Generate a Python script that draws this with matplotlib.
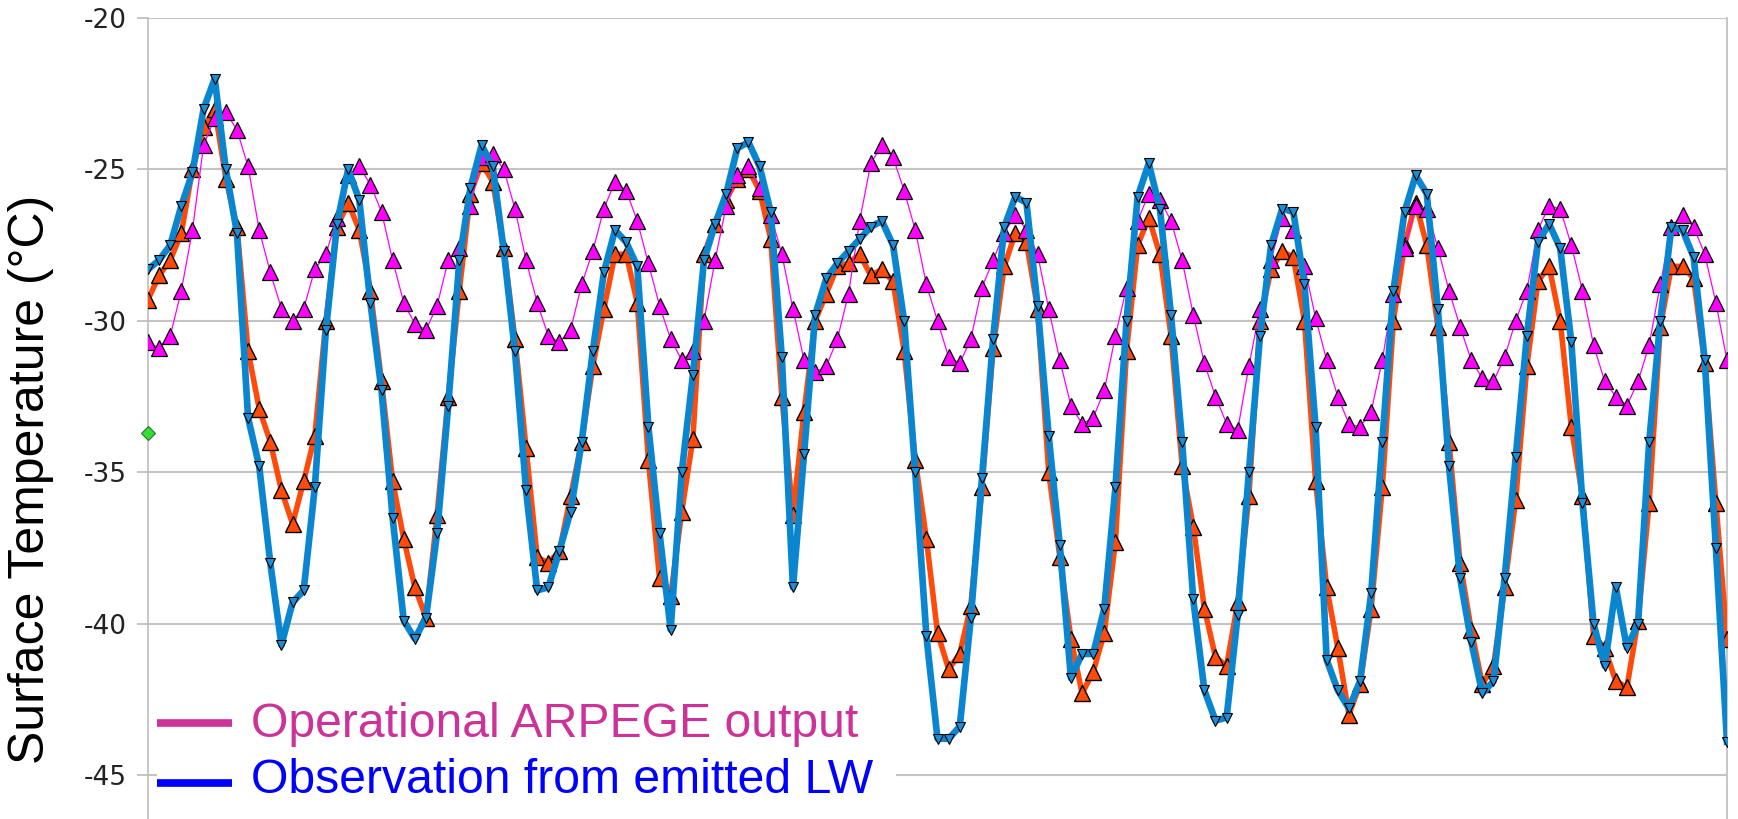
import numpy as np
import matplotlib
matplotlib.use("Agg")
import matplotlib.pyplot as plt
from matplotlib.lines import Line2D
from matplotlib.patches import Rectangle

plt.rcParams["axes.unicode_minus"] = False

# time axis: hours since start, one value every 2 h
hours = np.arange(0, 286, 2)

# observation from emitted LW (blue)
obs_lw = [
    -28.3, -28.0, -27.5, -26.2, -25.1, -23.0, -22.0, -25.0, -27.1, -33.2, -34.8, -38.0,
    -40.7, -39.3, -38.9, -35.5, -30.3, -26.8, -25.0, -26.0, -29.4, -32.3, -36.5, -39.9,
    -40.5, -39.8, -37.0, -32.8, -28.0, -25.6, -24.2, -24.9, -27.7, -31.0, -35.6, -38.9,
    -38.8, -37.6, -36.3, -34.0, -31.0, -28.4, -27.0, -27.4, -28.2, -33.5, -37.0, -40.2,
    -35.0, -31.8, -28.0, -26.8, -25.8, -24.3, -24.1, -24.9, -26.4, -31.2, -38.8, -34.4,
    -29.8, -28.6, -28.1, -27.7, -27.3, -26.9, -26.7, -27.5, -30.0, -35.0, -40.4, -43.8,
    -43.8, -43.4, -39.8, -35.2, -30.6, -26.9, -25.9, -26.1, -29.5, -33.8, -37.4, -41.8,
    -41.0, -41.0, -39.5, -35.5, -30.0, -25.9, -24.8, -26.3, -29.8, -34.0, -39.2, -42.2,
    -43.2, -43.1, -39.7, -35.0, -30.5, -27.5, -26.3, -26.4, -28.8, -33.5, -41.2, -42.2,
    -42.8, -41.9, -39.0, -34.0, -29.0, -26.4, -25.2, -25.8, -29.6, -34.8, -38.5, -40.6,
    -42.3, -41.9, -38.5, -34.5, -30.5, -27.4, -26.8, -27.6, -30.7, -36.0, -40.0, -41.4,
    -38.8, -40.8, -40.0, -34.0, -30.0, -26.9, -27.0, -27.9, -31.3, -37.5, -43.9,
]

# second model run (orange-red)
model_run = [
    -29.3, -28.5, -28.0, -27.1, -25.0, -23.6, -23.0, -25.3, -26.9, -31.0, -32.9, -34.0,
    -35.6, -36.7, -35.3, -33.8, -30.0, -26.9, -26.1, -27.0, -29.0, -32.0, -35.3, -37.2,
    -38.8, -39.8, -36.4, -32.5, -29.0, -25.8, -24.8, -25.4, -27.6, -30.6, -34.2, -37.8,
    -38.0, -37.6, -35.8, -34.0, -31.5, -29.6, -27.8, -27.8, -29.4, -34.6, -38.5, -39.1,
    -36.3, -33.9, -27.8, -26.8, -26.0, -25.3, -25.0, -25.7, -27.3, -32.5, -36.4, -33.0,
    -30.0, -29.1, -28.2, -28.1, -27.8, -28.5, -28.3, -28.7, -31.0, -34.6, -37.2, -40.3,
    -41.5, -41.0, -39.4, -35.5, -30.9, -28.2, -27.1, -27.4, -29.6, -35.0, -37.8, -40.5,
    -42.3, -41.6, -40.3, -37.3, -31.0, -27.5, -26.6, -27.8, -30.5, -34.8, -36.8, -39.5,
    -41.1, -41.4, -39.3, -35.8, -30.0, -28.3, -27.7, -27.9, -30.0, -35.3, -38.8, -40.8,
    -43.0, -42.0, -39.5, -35.5, -30.0, -27.5, -26.1, -27.5, -30.2, -34.0, -38.0, -40.2,
    -42.0, -41.4, -38.8, -35.9, -31.5, -28.7, -28.2, -30.0, -33.5, -35.8, -40.4, -40.8,
    -41.9, -42.1, -39.9, -36.0, -30.2, -28.2, -28.2, -28.6, -31.4, -36.0, -40.5,
]

# operational ARPEGE output (magenta)
arpege_oper = [
    -30.7, -30.9, -30.5, -29.0, -27.0, -24.2, -23.3, -23.1, -23.7, -24.9, -27.0, -28.4,
    -29.6, -30.0, -29.6, -28.3, -27.8, -26.6, -25.2, -24.9, -25.5, -26.4, -28.0, -29.4,
    -30.1, -30.3, -29.5, -28.0, -27.6, -26.2, -24.6, -24.5, -25.0, -26.3, -28.0, -29.4,
    -30.5, -30.7, -30.3, -28.8, -27.7, -26.3, -25.4, -25.7, -26.7, -28.1, -29.5, -30.6,
    -31.3, -31.0, -30.0, -28.0, -26.2, -25.2, -24.9, -25.6, -26.5, -27.8, -29.6, -31.3,
    -31.7, -31.5, -30.6, -29.1, -26.7, -24.8, -24.2, -24.6, -25.7, -27.0, -28.8, -30.0,
    -31.2, -31.4, -30.6, -28.9, -28.0, -27.1, -26.5, -27.0, -27.8, -29.6, -31.3, -32.8,
    -33.4, -33.2, -32.3, -30.5, -28.9, -26.7, -25.8, -26.0, -26.7, -28.0, -29.8, -31.4,
    -32.5, -33.4, -33.6, -31.5, -29.6, -28.0, -26.6, -27.0, -28.2, -29.9, -31.3, -32.5,
    -33.4, -33.5, -33.0, -31.3, -29.1, -27.6, -26.2, -26.3, -27.6, -29.0, -30.2, -31.3,
    -31.9, -32.0, -31.2, -30.0, -29.0, -27.0, -26.2, -26.3, -27.5, -29.0, -30.8, -32.0,
    -32.5, -32.8, -32.0, -30.8, -28.8, -26.9, -26.5, -26.9, -27.8, -29.4, -31.3,
]

# lone green point on the left axis
green_h = [0]
green_val = [-33.7]

y_ticks = [-45, -40, -35, -30, -25, -20]

fig = plt.figure(figsize=(17.38, 8.19), dpi=100)
ax = fig.add_axes([148 / 1738, 0.0, 1579 / 1738, 1 - 18 / 819])

ax.plot(hours, model_run, color="#FF4A0A", lw=4.0, marker="^", ms=12,
        mfc="#FF4A0A", mec="black", mew=1.0, zorder=3)
ax.plot(hours, arpege_oper, color="#FF00FF", lw=0.9, marker="^", ms=11,
        mfc="#FF00FF", mec="black", mew=0.9, zorder=4)
ax.plot(hours, obs_lw, color="#0A86D0", lw=4.8, marker="v", ms=6.5,
        mfc="#1A8FD8", mec="black", mew=0.8, zorder=5)
ax.plot(green_h, green_val, ls="none", marker="D", ms=7, mfc="#33DD33",
        mec="#227722", mew=0.8, zorder=6, clip_on=False)

ax.set_xlim(0, 284)
ax.set_ylim(-46.45, -20)
ax.set_yticks(y_ticks)
ax.set_yticklabels([str(t) for t in y_ticks], family=["Liberation Sans Narrow", "DejaVu Sans"],
                   fontsize=19, color="#222222")
ax.set_xticks([])
ax.tick_params(axis="y", direction="out", length=8, width=1.2, color="#BBBBBB", pad=7)
ax.grid(axis="y", color="#C4C4C4", lw=1.5, zorder=0)
ax.set_axisbelow(True)
for side in ("top", "bottom"):
    ax.spines[side].set_visible(False)
for side in ("left", "right"):
    ax.spines[side].set_color("#BDBDBD")
    ax.spines[side].set_linewidth(1.2)

fig.text(31 / 1738, 0.415, "Surface Temperature (\u00b0C)", rotation=90, ha="center",
         va="center", fontsize=36, family=["Liberation Sans", "DejaVu Sans"], color="black")

# legend block, drawn by hand on a white box
ax.add_patch(Rectangle((0.006, 0.015), 0.468, 0.15, transform=ax.transAxes,
                       facecolor="white", edgecolor="none", zorder=7))
entries = [("Operational ARPEGE output", "#CC3399", 0.120, 0.1024),
           ("Observation from emitted LW", "#0000FF", 0.045, 0.0325)]
for label, col, y_line, y_base in entries:
    ax.add_line(Line2D([0.0057, 0.0532], [y_line, y_line], transform=ax.transAxes,
                       color=col, lw=5.5, zorder=8, solid_capstyle="butt"))
    ax.text(0.0652, y_base, label, transform=ax.transAxes, color=col, fontsize=34.7,
            family=["Liberation Sans", "DejaVu Sans"], va="baseline", ha="left", zorder=8)

fig.savefig("out.png", dpi=100)
